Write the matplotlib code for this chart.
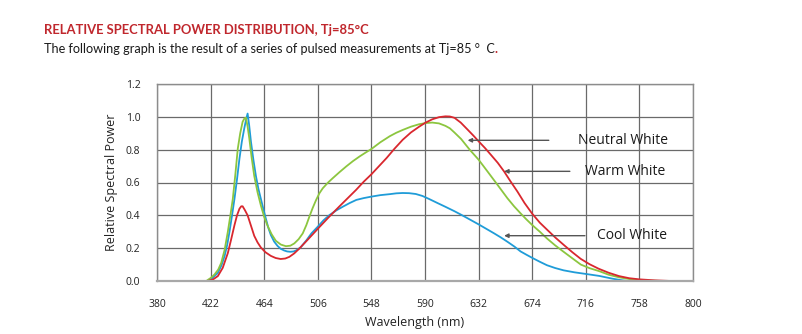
import matplotlib
matplotlib.use("Agg")
import matplotlib.pyplot as plt

# wavelength (nm) / relative power
cool_wl = [419.4, 423, 427.7, 430.5, 432.9, 435, 436.8, 438.8, 440.7, 442.7,
           444.6, 446.5, 448.4, 450, 451.0, 452.2, 453.6, 455.5, 457.5, 459.5,
           461.4, 463.3, 465.3, 467.2, 469.2, 471.8, 474.4, 477, 479.6, 482,
           484.5, 487, 489, 492.5, 496.8, 501, 506, 510.5, 515.2, 520.5,
           525.7, 531, 536.2, 542, 548, 555, 562.4, 567.5, 572.5, 577.5,
           582.8, 588, 593.1, 599.5, 606, 613.1, 618, 623.4, 632, 638,
           644.2, 649.5, 654.6, 660, 664.9, 669.5, 674, 680, 685.6, 692,
           698.6, 707, 716, 726.5, 732, 737, 743, 748.6]
cool_rel = [0.0, 0.015, 0.05, 0.095, 0.15, 0.22, 0.30, 0.40, 0.50, 0.62,
            0.745, 0.85, 0.93, 0.99, 1.02, 0.95, 0.85, 0.74, 0.64, 0.56,
            0.50, 0.44, 0.38, 0.325, 0.28, 0.24, 0.214, 0.196, 0.186, 0.18,
            0.178, 0.18, 0.186, 0.205, 0.245, 0.29, 0.331, 0.37, 0.402, 0.43,
            0.453, 0.475, 0.494, 0.505, 0.514, 0.523, 0.529, 0.534, 0.536, 0.535,
            0.53, 0.518, 0.50, 0.476, 0.452, 0.425, 0.405, 0.382, 0.345, 0.318,
            0.29, 0.265, 0.239, 0.21, 0.18, 0.16, 0.141, 0.117, 0.096, 0.079,
            0.065, 0.053, 0.043, 0.031, 0.022, 0.014, 0.006, 0.0]

warm_wl = [420, 424, 427.7, 431.5, 435.5, 438, 440.7, 442.7, 444.6, 446,
           447.1, 449, 451, 453.5, 456.2, 458.8, 461.4, 465, 469.2, 473,
           476.9, 480.5, 483.7, 487.5, 491.6, 498.5, 506, 514.5, 523, 529.5,
           536, 542, 548, 554, 560, 566, 572.5, 579, 585.4, 590.5,
           595.7, 601, 606, 609.5, 613.1, 618, 623.4, 628, 632, 637,
           641.6, 647, 652, 657, 662.4, 668, 674, 680, 686, 692.5,
           699, 705.5, 712, 719, 726, 734, 742, 750, 758, 770, 783]
warm_rel = [0.0, 0.01, 0.03, 0.08, 0.17, 0.25, 0.34, 0.40, 0.44, 0.455,
            0.455, 0.43, 0.40, 0.34, 0.275, 0.235, 0.204, 0.175, 0.153, 0.14,
            0.134, 0.137, 0.147, 0.168, 0.198, 0.255, 0.318, 0.388, 0.455, 0.505,
            0.555, 0.605, 0.65, 0.70, 0.75, 0.805, 0.86, 0.905, 0.94, 0.965,
            0.985, 0.998, 1.003, 1.002, 0.994, 0.965, 0.922, 0.885, 0.851, 0.81,
            0.769, 0.72, 0.667, 0.607, 0.545, 0.475, 0.41, 0.355, 0.31, 0.262,
            0.218, 0.175, 0.135, 0.102, 0.075, 0.05, 0.03, 0.017, 0.01, 0.004, 0.0]

neutral_wl = [418.6, 422, 425.1, 428, 430.3, 433, 435.5, 437.5, 439.4, 441.4,
              443.3, 445.2, 447.1, 448.5, 449.7, 451, 452.3, 454.2, 456.2, 458.8,
              461.4, 464, 466.6, 469.8, 473.1, 477, 481, 484.5, 487.6, 491,
              494.2, 497, 499.4, 502, 504.7, 507.3, 509.9, 513.8, 517.8, 523,
              528.3, 533.5, 538.8, 543.4, 548, 555, 562.4, 567.5, 572.5, 579,
              585.4, 590.5, 595.7, 601, 606, 609.5, 613, 618.3, 625, 632,
              639, 646.8, 654.6, 659.8, 664.9, 669.5, 674, 680, 685.6, 692,
              698.6, 705.5, 712.1, 719, 726.5, 734, 742.3, 750, 758, 766, 776]
neutral_rel = [0.0, 0.018, 0.04, 0.07, 0.11, 0.19, 0.30, 0.40, 0.50, 0.65,
               0.806, 0.90, 0.97, 0.99, 0.995, 0.94, 0.87, 0.75, 0.64, 0.54,
               0.46, 0.39, 0.337, 0.285, 0.245, 0.222, 0.212, 0.215, 0.229, 0.255,
               0.29, 0.34, 0.392, 0.445, 0.494, 0.535, 0.565, 0.598, 0.627, 0.663,
               0.698, 0.73, 0.759, 0.782, 0.804, 0.845, 0.882, 0.903, 0.92, 0.94,
               0.955, 0.962, 0.965, 0.96, 0.945, 0.93, 0.905, 0.865, 0.80, 0.739,
               0.667, 0.586, 0.504, 0.455, 0.412, 0.375, 0.341, 0.30, 0.259, 0.217,
               0.178, 0.138, 0.10, 0.078, 0.06, 0.038, 0.022, 0.012, 0.006, 0.002, 0.0]

x_ticks = [380, 422, 464, 506, 548, 590, 632, 674, 716, 758, 800]
y_ticks = [0.0, 0.2, 0.4, 0.6, 0.8, 1.0, 1.2]

# label, arrow tail x, y, arrow tip x, text x
labels = [("Neutral White", 687, 0.857, 623.4, 709.8),
          ("Warm White", 703.5, 0.668, 652, 715.3),
          ("Cool White", 715.3, 0.276, 652, 724.8)]

font = "Open Sans"

fig = plt.figure(figsize=(8.03, 3.34), dpi=100)
ax = fig.add_axes([157/803, 1-281/334, 536/803, 197/334])

ax.plot(cool_wl, cool_rel, color="#1f9cd8", lw=1.3)
ax.plot(neutral_wl, neutral_rel, color="#8cc63f", lw=1.3)
ax.plot(warm_wl, warm_rel, color="#d9272e", lw=1.3)

ax.set_xlim(380, 800)
ax.set_ylim(0, 1.2)
ax.set_xticks(x_ticks)
ax.set_yticks(y_ticks)
ax.set_yticklabels(["%.1f" % v for v in y_ticks])
ax.grid(True, color="#6a6a6a", lw=0.9)
ax.set_axisbelow(True)
ax.tick_params(length=0, labelsize=7.5, labelcolor="#222222")
ax.tick_params(axis="x", pad=13)
ax.tick_params(axis="y", pad=12)
for lab in ax.get_xticklabels() + ax.get_yticklabels():
    lab.set_fontfamily(font)
for s in ax.spines.values():
    s.set_color("#8c8c8c")
    s.set_linewidth(1.0)
ax.spines["bottom"].set_color("#a8a8a8")
ax.spines["bottom"].set_linewidth(1.6)

ax.text(-0.084, 0.5, "Relative Spectral Power", transform=ax.transAxes, rotation=90,
        ha="center", va="center", fontsize=9, family=font, color="#222222")
ax.text(0.481, -0.213, "Wavelength (nm)", transform=ax.transAxes,
        ha="center", va="center", fontsize=9, family=font, color="#222222")

for name, x0, y0, tip, tx in labels:
    ax.annotate("", xy=(tip, y0), xytext=(x0, y0),
                arrowprops=dict(arrowstyle="-|>", color="#555555", lw=1.0,
                                mutation_scale=6, shrinkA=0, shrinkB=0))
    ax.text(tx, y0, name, ha="left", va="center", fontsize=10, family=font,
            color="#1a1a1a", clip_on=False)

fig.text(44/803, 1-30/334, "RELATIVE SPECTRAL POWER DISTRIBUTION, Tj=85\u00b0C",
         ha="left", va="center", fontsize=9.4, fontweight="bold", family="Lato",
         color="#c0272d")
sub = fig.text(44/803, 1-49/334,
               "The following graph is the result of a series of pulsed measurements at Tj=85 \u00b0  C",
               ha="left", va="center", fontsize=9.1, family="Lato", color="#1a1a1a")
ax.annotate(".", xy=(1, 0), xycoords=sub, ha="left", va="bottom",
            fontsize=9.1, family="Lato", color="#c0272d", fontweight="bold",
            annotation_clip=False)

fig.savefig("out.png", dpi=100)
